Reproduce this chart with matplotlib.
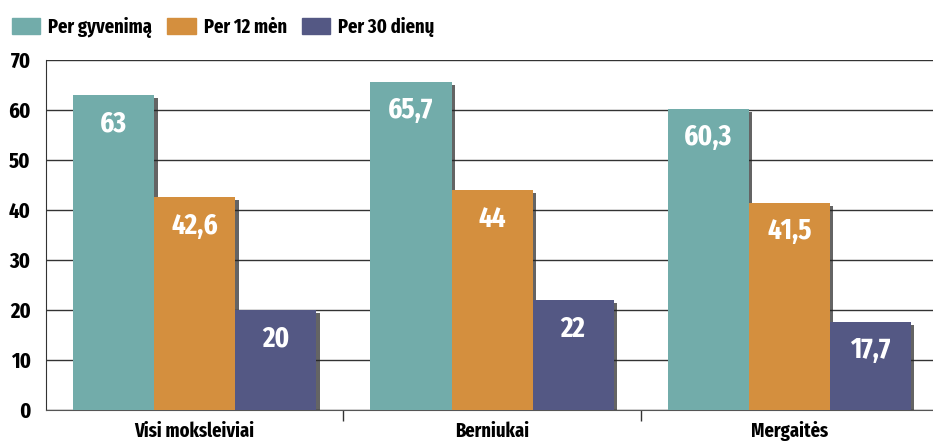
import matplotlib
matplotlib.use('Agg')
import matplotlib.pyplot as plt
import matplotlib.patches as patches
import matplotlib.patheffects as pe
import numpy as np

# data
categories = ['Visi moksleiviai', 'Berniukai', 'Mergaitės']
series_names = ['Per gyvenimą', 'Per 12 mėn', 'Per 30 dienų']
per_gyvenima = [63, 65.7, 60.3]
per_12_men = [42.6, 44, 41.5]
per_30_dienu = [20, 22, 17.7]
colors = ['#72ACAA', '#D48F3E', '#545884']

plt.rcParams['font.family'] = ['Fira Sans Extra Condensed', 'DejaVu Sans']
plt.rcParams['font.weight'] = 'bold'

fig = plt.figure(figsize=(9.33, 4.43), dpi=100)
ax = fig.add_axes([46 / 933, 33 / 443, 898 / 933, 350 / 443])

x = np.arange(len(categories))
w = 0.2725
shadow = [pe.SimplePatchShadow(offset=(2.5, -2.5), shadow_rgbFace='#222222', alpha=0.7), pe.Normal()]

for i, vals in enumerate([per_gyvenima, per_12_men, per_30_dienu]):
    pos = x + (i - 1) * w
    ax.bar(pos, vals, width=w, color=colors[i], zorder=3, path_effects=shadow)
    for xp, v in zip(pos, vals):
        txt = f'{v:g}'.replace('.', ',')
        ax.annotate(txt, (xp, v), xytext=(0, -21), textcoords='offset points',
                    ha='center', va='center', color='white', fontsize=21, fontweight='bold', zorder=5)

ax.set_xlim(-0.5, 2.52)
ax.set_ylim(0, 70)
ax.set_yticks(range(0, 71, 10))
ax.set_yticklabels([str(t) for t in range(0, 71, 10)], fontsize=16, fontweight='bold')
ax.tick_params(axis='y', length=0, pad=11)
ax.yaxis.grid(True, color='#333333', lw=1)
ax.set_axisbelow(True)

ax.set_xticks(x)
ax.set_xticklabels(categories, fontsize=14.5, fontweight='bold')
ax.tick_params(axis='x', length=0, pad=8)
ax.set_xticks([0.5, 1.5], minor=True)
ax.tick_params(axis='x', which='minor', length=8, width=1, color='#333333', direction='out')

for s in ['top', 'right']:
    ax.spines[s].set_visible(False)
ax.spines['left'].set_color('#333333')
ax.spines['bottom'].set_color('#555555')

handles = [patches.Rectangle((0, 0), 1, 1, color=c) for c in colors]
fig.legend(handles, series_names, loc='upper left', bbox_to_anchor=(0.0, 0.99), ncol=3, frameon=False,
           handlelength=1.4, handleheight=0.85, handletextpad=0.4, columnspacing=0.75,
           prop={'weight': 'bold', 'size': 14.5}, borderaxespad=0.3, borderpad=0.3)

fig.savefig('out.png', dpi=100)
